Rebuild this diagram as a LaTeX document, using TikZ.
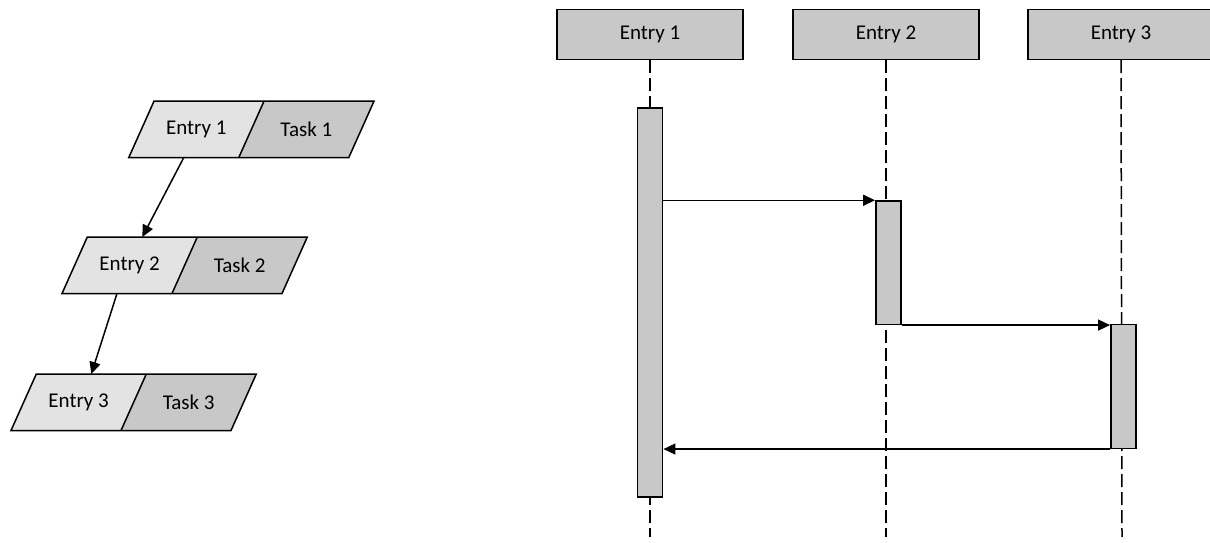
\documentclass[tikz,border=0pt]{standalone}
\usepackage{fontspec}
\setmainfont{Carlito}
\usetikzlibrary{arrows.meta}

\definecolor{boxgray}{HTML}{C8C8C8}
\definecolor{entrygray}{HTML}{E3E3E3}

\tikzset{
  outline/.style={draw=black, line width=1.5pt},
  txt/.style={font=\fontsize{21}{25}\selectfont, text=black},
  header/.style={outline, fill=boxgray, minimum width=186pt, minimum height=50pt, inner sep=0pt, txt},
  lifeline/.style={line width=1.5pt, dash pattern=on 13pt off 5pt},
  activation/.style={outline, fill=boxgray, minimum width=25pt, inner sep=0pt},
  msg/.style={line width=1.5pt, -{Triangle[length=12pt,width=11pt]}},
  link/.style={line width=1.5pt, -{Triangle[length=12pt,width=11pt]}},
}

% Slanted two-part record: #1 name, (#2,#3) bottom-left corner, #4 left text, #5 right text
\newcommand{\entrytask}[5]{%
  \fill[entrygray] (#2,#3) -- (#2+25.3,#3-56.5) -- (#2+135.3,#3-56.5) -- (#2+110,#3) -- cycle;
  \fill[boxgray] (#2+110,#3) -- (#2+135.3,#3-56.5) -- (#2+245.3,#3-56.5) -- (#2+220,#3) -- cycle;
  \draw[outline, line join=miter] (#2,#3) -- (#2+25.3,#3-56.5) -- (#2+245.3,#3-56.5) -- (#2+220,#3) -- cycle;
  \draw[outline] (#2+110,#3) -- (#2+135.3,#3-56.5);
  \node[txt] (#1e) at (#2+67.65,#3-28.25) {#4};
  \node[txt] (#1t) at (#2+177.65,#3-28.25) {#5};
  \coordinate (#1in) at (#2+80.3,#3-56.5);
  \coordinate (#1out) at (#2+55,#3);
}

\begin{document}
\begin{tikzpicture}[x=1pt,y=-1pt]
  \useasboundingbox (0,0) rectangle (1210,542);

  % left: chain of records
  \entrytask{r1}{128.7}{157.7}{Entry 1}{Task 1}
  \entrytask{r2}{62}{293.5}{Entry 2}{Task 2}
  \entrytask{r3}{11}{430.5}{Entry 3}{Task 3}
  \draw[link] (r1out) -- (r2in);
  \draw[link] (r2out) -- (r3in);

  % right: sequence diagram
  \node[header] (h1) at (650,34.3) {Entry 1};
  \node[header] (h2) at (886,34.3) {Entry 2};
  \node[header] (h3) at (1121,34.3) {Entry 3};

  \coordinate (e1) at (650,537);
  \coordinate (e2) at (886,537);
  \coordinate (e3) at (1122,537);
  \draw[lifeline] (h1.south) -- (e1);
  \draw[lifeline] (h2.south) -- (e2);
  \draw[lifeline] (h3.south) -- (e3);

  \node[activation, minimum height=389pt] (a1) at (650.2,302.25) {};
  \node[activation, minimum height=123.3pt] (a2) at (888.3,262.65) {};
  \node[activation, minimum height=124pt] (a3) at (1123.3,386.3) {};

  \draw[msg] (a1.east |- a2.north west) -- (a2.north west);
  \draw[msg] (a2.south east) -- (a2.south east -| a3.west);
  \draw[msg] (a3.south west) -- (a1.east |- a3.south west);
\end{tikzpicture}
\end{document}
